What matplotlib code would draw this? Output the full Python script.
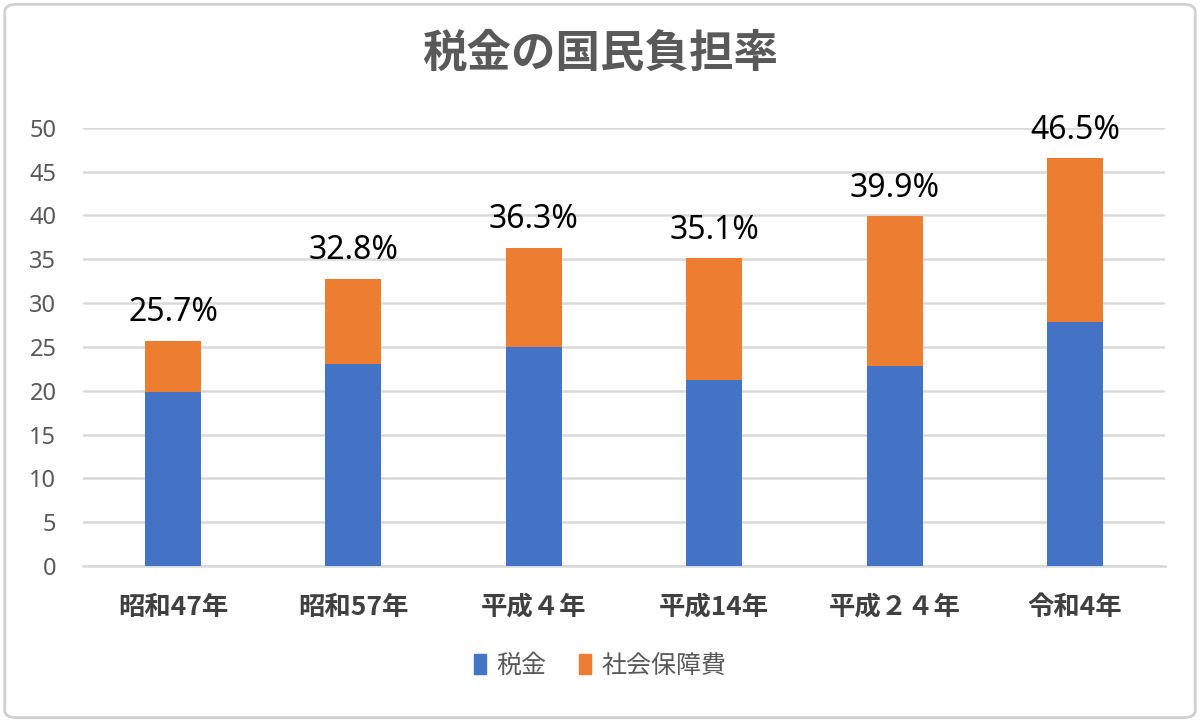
import matplotlib.pyplot as plt
import numpy as np
from matplotlib.patches import FancyBboxPatch, Patch

plt.rcParams["font.family"] = ["Noto Sans CJK JP", "DejaVu Sans"]

# Data
years = ["昭和47年", "昭和57年", "平成４年", "平成14年", "平成２４年", "令和4年"]
tax = [19.8, 23.0, 25.0, 21.2, 22.8, 27.8]
total = [25.7, 32.8, 36.3, 35.1, 39.9, 46.5]
social = [t - x for t, x in zip(total, tax)]

blue = "#4472C4"
orange = "#ED7D31"
grid_col = "#D9D9D9"
text_col = "#595959"

fig = plt.figure(figsize=(12, 7.22), dpi=100)
ax = fig.add_axes([0.069, 0.216, 0.902, 0.607])

x = np.arange(len(years))
width = 0.31
ax.bar(x, tax, width, color=blue, label="税金", zorder=3)
ax.bar(x, social, width, bottom=tax, color=orange, label="社会保障費", zorder=3)

# total labels above each bar
for xi, t in zip(x, total):
    ax.text(xi, t + 1.3, f"{t:.1f}%", ha="center", va="bottom",
            fontsize=23, color="#000000", family=["Noto Sans", "DejaVu Sans"])

ax.set_xlim(-0.5, len(years) - 0.5)
ax.set_ylim(0, 50)
ax.set_yticks(range(0, 51, 5))
ax.yaxis.grid(True, color=grid_col, linewidth=1.8, zorder=0)
ax.set_axisbelow(True)
for s in ["top", "right", "left"]:
    ax.spines[s].set_visible(False)
ax.spines["bottom"].set_color(grid_col)
ax.spines["bottom"].set_linewidth(1.8)
ax.tick_params(axis="both", length=0)
ax.tick_params(axis="y", labelsize=17, labelcolor=text_col, pad=19)
ax.set_xticks(x)
ax.set_xticklabels(years, fontsize=19, fontweight="bold", color="#404040")
ax.tick_params(axis="x", pad=20)
for lbl in ax.get_yticklabels():
    lbl.set_family(["Noto Sans", "DejaVu Sans"])

fig.text(0.5, 0.925, "税金の国民負担率", ha="center", va="center",
         fontsize=32, fontweight="bold", color=text_col)

handles = [Patch(color=blue, label="税金"), Patch(color=orange, label="社会保障費")]
fig.legend(handles=handles, loc="center", bbox_to_anchor=(0.5, 0.078), ncol=2,
           frameon=False, fontsize=18, labelcolor=text_col,
           handlelength=0.5, handleheight=0.9, handletextpad=0.4, columnspacing=1.3)

# light rounded border around the chart area
border = FancyBboxPatch((0.004, 0.006), 0.992, 0.988, boxstyle="round,pad=0,rounding_size=0.01",
                        transform=fig.transFigure, fill=False, edgecolor="#D0D0D0", linewidth=2)
fig.patches.append(border)

plt.savefig("out.png", dpi=100)
